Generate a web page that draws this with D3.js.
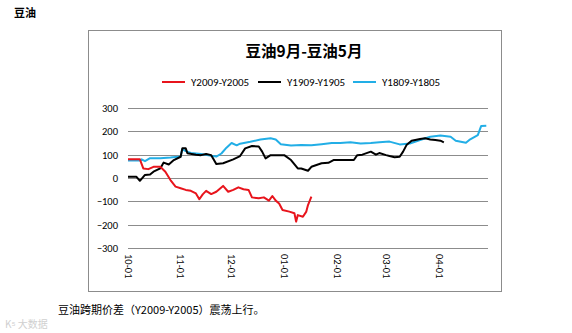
<!DOCTYPE html>
<html><head><meta charset="utf-8">
<script src="https://cdn.jsdelivr.net/npm/d3@7"></script>
<style>
html,body{margin:0;padding:0;background:#fff;}
svg{display:block;}
</style></head>
<body>
<svg id="c" width="572" height="333"></svg>
<script>
// ---- data ----
const seriesNames = ["Y2009-Y2005", "Y1909-Y1905", "Y1809-Y1805"];
const seriesColors = ["#e8141c", "#000000", "#22aee6"];
const yTicks = [300, 200, 100, 0, -100, -200, -300];
const xTickLabels = ["10-01", "11-01", "12-01", "01-01", "02-01", "03-01", "04-01"];

const redDates = ["10-01","10-08","10-10","10-13","10-16","10-20","10-23","10-26","10-29","11-01","11-04","11-07","11-10","11-12","11-14","11-16","11-19","11-22","11-26","11-29","12-02","12-05","12-08","12-11","12-13","12-17","12-20","12-23","12-25","12-27","12-29","12-31","01-04","01-07","01-08","01-09","01-12","01-14","01-15","01-17"];
const redValues = [80,80,41,38,48,48,27,-9,-37,-44,-51,-55,-66,-91,-70,-55,-69,-59,-34,-59,-51,-40,-48,-51,-83,-87,-83,-97,-77,-97,-109,-137,-144,-151,-187,-159,-166,-144,-116,-80];

const blackDates = ["10-01","10-06","10-08","10-11","10-14","10-16","10-20","10-22","10-25","10-28","11-01","11-02","11-04","11-05","11-10","11-13","11-16","11-19","11-22","11-26","12-02","12-06","12-09","12-13","12-17","12-19","12-21","12-24","01-01","01-05","01-09","01-11","01-15","01-17","01-23","01-27","01-30","02-11","02-13","02-16","02-21","02-24","02-26","03-01","03-03","03-06","03-09","03-11","03-13","03-16","03-21","03-24","03-27","03-30","04-02","04-04"];
const blackValues = [5,5,-12,13,15,27,41,66,58,77,91,127,127,106,100,98,103,98,60,63,80,94,127,137,135,113,84,98,98,77,41,41,31,48,63,65,77,77,98,100,113,100,107,98,94,89,91,113,141,160,167,170,165,163,160,153];

const blueDates = ["10-01","10-08","10-09","10-11","10-14","10-20","10-26","10-29","11-01","11-02","11-04","11-07","11-13","11-19","11-22","11-25","11-28","12-01","12-04","12-06","12-12","12-18","12-24","12-27","12-30","01-05","01-11","01-17","01-23","01-29","02-03","02-09","02-15","02-21","02-26","03-03","03-09","03-15","03-21","03-27","04-02","04-08","04-11","04-17","04-19","04-24","04-26","04-29"];
const blueValues = [75,75,80,72,85,85,88,90,92,124,115,107,103,95,92,105,130,150,140,147,155,165,170,165,145,139,141,140,145,150,150,153,148,150,153,156,144,148,163,177,182,177,160,151,163,184,223,224];

// ---- helpers ----
function toDate(md){
  const [m,d] = md.split("-").map(Number);
  const y = m >= 10 ? 2019 : 2020;
  return new Date(y, m-1, d);
}
const series = [
  {name: seriesNames[0], color: seriesColors[0], pts: redDates.map((d,i)=>({date:toDate(d), v:redValues[i]}))},
  {name: seriesNames[1], color: seriesColors[1], pts: blackDates.map((d,i)=>({date:toDate(d), v:blackValues[i]}))},
  {name: seriesNames[2], color: seriesColors[2], pts: blueDates.map((d,i)=>({date:toDate(d), v:blueValues[i]}))}
];

const svg = d3.select("#c");
const fontLatin = "Calibri, Carlito, 'Liberation Sans', Arial, sans-serif";
const fontCJK = "'Noto Sans CJK SC', sans-serif";

// page heading
svg.append("text").attr("x",14).attr("y",17)
  .attr("font-family", fontCJK).attr("font-weight","bold").attr("font-size",11)
  .attr("fill","#000").text("豆油");

// chart frame
svg.append("rect").attr("x",88.5).attr("y",30.5).attr("width",413).attr("height",261)
  .attr("fill","#fff").attr("stroke","#8c8c8c").attr("stroke-width",1);

// title
svg.append("text").attr("x",304).attr("y",57).attr("text-anchor","middle")
  .attr("font-family", fontCJK).attr("font-weight","bold").attr("font-size",15.5)
  .attr("fill","#000").text("豆油9月-豆油5月");

// scales
const x = d3.scaleTime().domain([toDate("10-01"), toDate("04-30")]).range([128, 488]);
const y = d3.scaleLinear().domain([-300, 300]).range([248, 108]);

// gridlines
svg.append("g").selectAll("line").data(yTicks).join("line")
  .attr("x1",128).attr("x2",488)
  .attr("y1",d=>Math.round(y(d))+0.5).attr("y2",d=>Math.round(y(d))+0.5)
  .attr("stroke","#8c8c8c").attr("stroke-width",1);

// y axis labels
const yAxis = d3.axisLeft(y).tickValues(yTicks).tickSize(0).tickPadding(0);
const gy = svg.append("g").attr("transform","translate(118,0)").call(yAxis);
gy.select(".domain").remove();
gy.selectAll("text").attr("font-family", fontLatin).attr("font-size",10.5).attr("fill","#000");

// x axis labels (rotated)
const xTickDates = xTickLabels.map(toDate);
const xAxis = d3.axisBottom(x).tickValues(xTickDates).tickSize(0)
  .tickFormat((d,i)=>xTickLabels[i]);
const gx = svg.append("g").attr("transform","translate(0,254)").call(xAxis);
gx.select(".domain").remove();
gx.selectAll("text")
  .attr("font-family", fontLatin).attr("font-size",10.5).attr("fill","#000")
  .attr("text-anchor","start").attr("dy","0.35em")
  .attr("transform","rotate(90)").attr("x",0).attr("y",0);

// lines
const line = d3.line().x(d=>x(d.date)).y(d=>y(d.v));
svg.append("g").selectAll("path").data([series[2], series[1], series[0]]).join("path")
  .attr("d", d=>line(d.pts)).attr("fill","none")
  .attr("stroke", d=>d.color).attr("stroke-width",2).attr("stroke-linejoin","round");

// legend
const legendX = [162, 258, 353];
const lg = svg.append("g").selectAll("g").data(series).join("g")
  .attr("transform",(d,i)=>`translate(${legendX[i]},82)`);
lg.append("line").attr("x1",0).attr("x2",23).attr("y1",0).attr("y2",0)
  .attr("stroke",d=>d.color).attr("stroke-width",2);
lg.append("text").attr("x",29).attr("y",0).attr("dy","0.35em")
  .attr("font-family", fontLatin).attr("font-size",11).attr("fill","#000")
  .text(d=>d.name);

// caption
svg.append("text").attr("x",58).attr("y",314)
  .attr("font-family", fontCJK).attr("font-size",11).attr("fill","#000")
  .text("豆油跨期价差（Y2009-Y2005）震荡上行。");

// watermark
svg.append("text").attr("x",5).attr("y",328)
  .attr("font-family", fontCJK).attr("font-size",10).attr("fill","#d0d0d0")
  .text("K⁵ 大数据");
</script>
</body></html>
